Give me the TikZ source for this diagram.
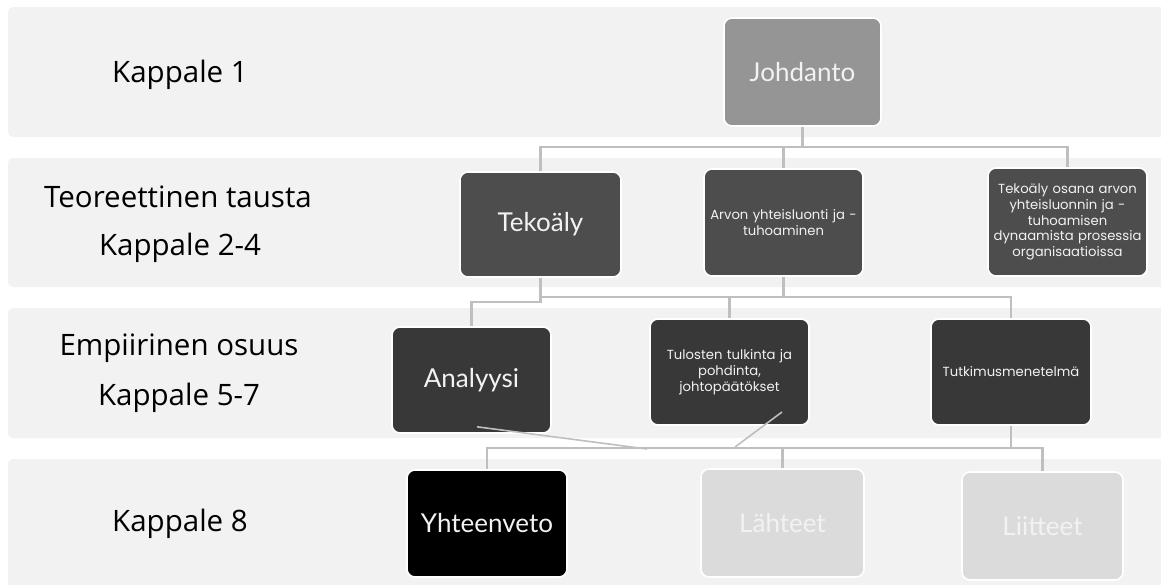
\documentclass[tikz,border=0pt]{standalone}
\usepackage{fontspec}
\setmainfont{Lato}
\newfontfamily\labelfont{Open Sans}
\newfontfamily\smallfont{Poppins}
\usetikzlibrary{calc}
\definecolor{band}{HTML}{F2F2F2}
\definecolor{conn}{HTML}{BFBFBF}
\definecolor{lvlA}{HTML}{959595}
\definecolor{lvlB}{HTML}{4D4D4D}
\definecolor{lvlC}{HTML}{383838}
\definecolor{lvlD}{HTML}{DBDBDB}
\definecolor{boxtext}{HTML}{F2F2F2}
\tikzset{
  bandbox/.style={fill=band, draw=none, rounded corners=5pt},
  chapbox/.style={draw=white, line width=1.6pt, rounded corners=8pt, inner sep=2pt,
    text=boxtext, align=center, minimum width=#1},
  chapbox/.default=160pt,
  bigtext/.style={font=\fontsize{26}{30}\selectfont},
  smalltext/.style={font=\smallfont\fontsize{13.2}{15.8}\selectfont, text width=152pt},
  lbl/.style={font=\labelfont\fontsize{29.5}{34}\selectfont, text=black, align=center},
  connector/.style={draw=conn, line width=2.2pt},
}
\begin{document}
\begin{tikzpicture}[x=1pt, y=-1pt]
\useasboundingbox (0,0) rectangle (1161,584);
% bands
\path[bandbox] (8,7) rectangle (1168,137);
\path[bandbox] (8,158) rectangle (1168,287);
\path[bandbox] (8,308) rectangle (1168,438);
\path[bandbox] (8,459) rectangle (1168,590);
% labels
\node[lbl] (l1) at (180,75) {Kappale 1};
\node[lbl] (l2a) at (178,197) {Teoreettinen tausta};
\node[lbl] (l2b) at (180,248) {Kappale 2-4};
\node[lbl] (l3a) at (179,348) {Empiirinen osuus};
\node[lbl] (l3b) at (179,398) {Kappale 5-7};
\node[lbl] (l4) at (180,524) {Kappale 8};
% boxes
\node[chapbox=157pt, minimum height=108pt, fill=lvlA, bigtext] (joh) at (802.5,72) {Johdanto};
\node[chapbox=161pt, minimum height=105pt, fill=lvlB, bigtext] (tek) at (540.5,224.5) {Tekoäly};
\node[chapbox=159pt, minimum height=107pt, fill=lvlB, smalltext] (arv) at (783.5,222.5) {Arvon yhteisluonti ja -\\tuhoaminen};
\node[chapbox=159pt, minimum height=108pt, fill=lvlB, smalltext] (dyn) at (1067.5,222) {Tekoäly osana arvon\\yhteisluonnin ja -\\tuhoamisen\\dynaamista prosessia\\organisaatioissa};
\node[chapbox=159pt, minimum height=106pt, fill=lvlC, bigtext] (ana) at (471.5,380) {Analyysi};
\node[chapbox=159pt, minimum height=106pt, fill=lvlC, smalltext] (tul) at (729.5,372) {Tulosten tulkinta ja\\pohdinta,\\johtopäätökset};
\node[chapbox=160pt, minimum height=106pt, fill=lvlC, smalltext] (tut) at (1011,372) {Tutkimusmenetelmä};
\node[chapbox=160pt, minimum height=107pt, fill=black, bigtext] (yht) at (487,523.5) {Yhteenveto};
\node[chapbox=163pt, minimum height=108pt, fill=lvlD, bigtext] (lah) at (782.5,523) {Lähteet};
\node[chapbox=161pt, minimum height=108pt, fill=lvlD, bigtext] (lii) at (1042.5,526) {Liitteet};
% connector junctions
\coordinate (b1) at (802.5,147);
\coordinate (b2) at (783.5,297);
\coordinate (s2) at (540.5,302);
\coordinate (b4) at (1011,448);
\coordinate (d1) at (647,449);
\coordinate (d2) at (735,447);
% connectors level 1 -> 2
\draw[connector] (joh.south) -- (b1);
\draw[connector] (tek.north) |- (b1) -| (dyn.north);
\draw[connector] (arv.north) -- (arv.north |- b1);
% level 2 -> 3
\draw[connector] (arv.south) -- (b2);
\draw[connector] (tek.south) |- (b2) -| (tut.north);
\draw[connector] (tul.north) -- (tul.north |- b2);
\draw[connector] (tek.south) -- (s2) -| (ana.north);
% level 3 -> 4
\draw[connector] (tut.south) -- (b4) -| (lii.north);
\draw[connector] (yht.north) |- (b4);
\draw[connector] (lah.north) -- (lah.north |- b4);
\draw[connector, line width=1.6pt] ($(ana.south)+(5.5,-7)$) -- (d1);
\draw[connector, line width=1.6pt] ($(tul.center)+(52.5,40)$) -- (d2);
\end{tikzpicture}
\end{document}
